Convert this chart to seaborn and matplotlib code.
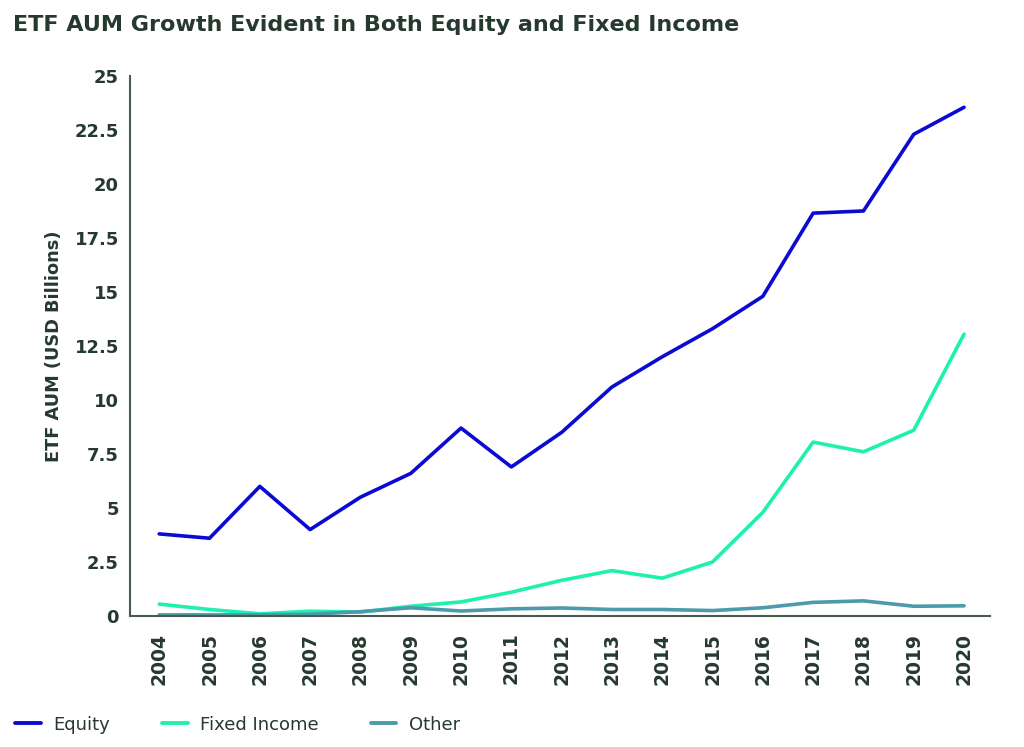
import numpy as np
import pandas as pd
import matplotlib.pyplot as plt
import seaborn as sns

years = list(range(2004, 2021))
equity = [3.8, 3.6, 6.0, 4.0, 5.5, 6.6, 8.7, 6.9, 8.5, 10.6, 12.0, 13.3, 14.8, 18.65, 18.75, 22.3, 23.55]
fixed_income = [0.55, 0.3, 0.1, 0.22, 0.18, 0.45, 0.65, 1.1, 1.65, 2.1, 1.75, 2.5, 4.8, 8.05, 7.6, 8.6, 13.05]
other = [0.05, 0.05, 0.05, 0.08, 0.2, 0.38, 0.23, 0.33, 0.37, 0.3, 0.3, 0.25, 0.38, 0.63, 0.7, 0.45, 0.47]

series_names = ["Equity", "Fixed Income", "Other"]
colors = ["#0a0ad2", "#1ef0b0", "#4b9baa"]
text_color = "#25392f"

df = pd.DataFrame({"Year": years, "Equity": equity, "Fixed Income": fixed_income, "Other": other})
long_df = df.melt(id_vars="Year", var_name="Series", value_name="AUM")

sns.set_style("white")
plt.rcParams['font.family'] = ['DejaVu Sans']

fig = plt.figure(figsize=(10.24, 7.47), dpi=100)
ax = fig.add_axes([0.127, 0.1754, 0.84, 0.7229])

sns.lineplot(data=long_df, x="Year", y="AUM", hue="Series", hue_order=series_names,
             palette=colors, linewidth=2.6, ax=ax, legend=False)

ax.set_xlim(2003.42, 2020.52)
ax.set_ylim(0, 25)
ax.set_xticks(years)
ax.set_xticklabels([str(y) for y in years], rotation=90, fontsize=13.5, fontweight="bold", color=text_color)
yticks = [0, 2.5, 5, 7.5, 10, 12.5, 15, 17.5, 20, 22.5, 25]
ax.set_yticks(yticks)
ax.set_yticklabels(["0", "2.5", "5", "7.5", "10", "12.5", "15", "17.5", "20", "22.5", "25"],
                   fontsize=13, fontweight="bold", color=text_color)
ax.tick_params(axis="both", direction="in", length=4, width=1, color="#4a5a52", pad=8)
ax.tick_params(axis="x", pad=12)
ax.set_xlabel("")
ax.set_ylabel("ETF AUM (USD Billions)", fontsize=12.8, fontweight="bold", color=text_color, labelpad=8)

sns.despine(ax=ax)
for side in ["left", "bottom"]:
    ax.spines[side].set_color("#4a5a52")
    ax.spines[side].set_linewidth(1.5)

fig.text(0.013, 0.966, "ETF AUM Growth Evident in Both Equity and Fixed Income",
         fontsize=16, fontweight="bold", color=text_color, va="center", ha="left")

handles = [plt.Line2D([], [], color=c, linewidth=2.8) for c in colors]
fig.legend(handles, series_names, loc="center left", bbox_to_anchor=(-0.001, 0.03), ncol=3,
           frameon=False, fontsize=13, handlelength=1.4, handletextpad=0.7,
           columnspacing=2.9, labelcolor=text_color)

fig.savefig("out.png", dpi=100, facecolor="white")
